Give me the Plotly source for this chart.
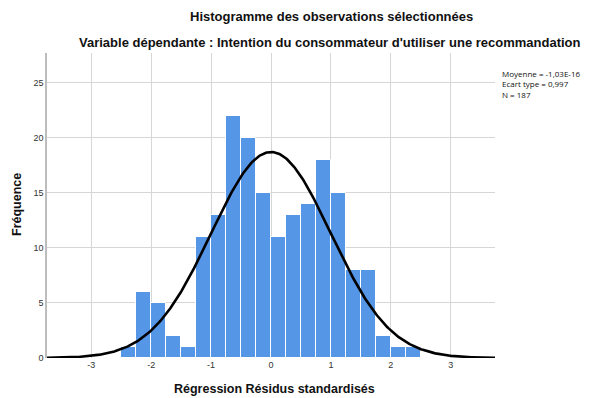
import numpy as np
import plotly.graph_objects as go

# Histogram of standardized regression residuals
bin_left = [-2.5, -2.25, -2.0, -1.75, -1.5, -1.25, -1.0, -0.75, -0.5, -0.25,
            0.0, 0.25, 0.5, 0.75, 1.0, 1.25, 1.5, 1.75, 2.0, 2.25]
counts = [1, 6, 5, 2, 1, 11, 13, 22, 20, 15,
          11, 13, 14, 18, 15, 8, 8, 2, 1, 1]
bin_width = 0.25

# Summary statistics shown beside the plot
mean = -1.03e-16
std = 0.997
n_obs = 187
stats_lines = ["Moyenne = -1,03E-16", "Ecart type = 0,997", "N = 187"]

x_ticks = [-3, -2, -1, 0, 1, 2, 3]
y_ticks = [0, 5, 10, 15, 20, 25]

x_range = [-3.74, 3.74]
y_range = [0, 27.7]

centers = [b + bin_width / 2 for b in bin_left]

# Normal curve scaled to the histogram counts
xs = np.linspace(x_range[0], x_range[1], 400)
ys = n_obs * bin_width * np.exp(-0.5 * ((xs - mean) / std) ** 2) / (std * np.sqrt(2 * np.pi))

fig = go.Figure()
fig.add_trace(go.Bar(
    x=centers, y=counts, width=bin_width,
    marker=dict(color="#5596E6", line=dict(color="white", width=1)),
    hoverinfo="x+y",
))
fig.add_trace(go.Scatter(
    x=xs, y=ys, mode="lines",
    line=dict(color="black", width=2.6),
    hoverinfo="skip",
))

font = "Liberation Sans, Arial, sans-serif"
grid = "#d6d6d6"

W, H = 596, 398
ML, MR, MT, MB = 47, 101, 53, 40

fig.update_layout(
    width=W, height=H,
    margin=dict(l=ML, r=MR, t=MT, b=MB),
    paper_bgcolor="white", plot_bgcolor="white",
    showlegend=False,
    bargap=0,
    font=dict(family=font, color="#222"),
    xaxis=dict(
        range=x_range, tickvals=x_ticks, ticktext=[str(t) for t in x_ticks],
        showgrid=True, gridcolor=grid, gridwidth=1,
        zeroline=False, showline=False, ticks="",
        tickfont=dict(size=9, color="#333"),
    ),
    yaxis=dict(
        range=y_range, tickvals=y_ticks,
        showgrid=True, gridcolor=grid, gridwidth=1,
        zeroline=False, showline=True, linecolor="#bdbdbd", linewidth=1.5,
        ticks="", tickfont=dict(size=9, color="#333"),
    ),
)


# Pixel position -> paper coordinates of the plot area
def paper_x(px):
    return (px - ML) / (W - ML - MR)


def paper_y(py):
    return (H - MB - py) / (H - MT - MB)


def add_text(text, px, py, size, angle=0, anchor="center", yanchor="middle",
             family=None, align="center"):
    f = dict(size=size, color="#111")
    if family:
        f["family"] = family
    fig.add_annotation(
        text=text, x=paper_x(px), y=paper_y(py),
        xref="paper", yref="paper", showarrow=False,
        xanchor=anchor, yanchor=yanchor, textangle=angle, align=align,
        font=f, borderpad=0,
    )


add_text("<b>Histogramme des observations sélectionnées</b>", 331, 17, 13)
add_text("<b>Variable dépendante : Intention du consommateur d'utiliser une recommandation</b>",
         330, 43, 13)
add_text("<b>Régression Résidus standardisés</b>", 274, 389, 12.5)
add_text("<b>Fréquence</b>", 17, 205, 12.5, angle=-90)

# Statistics block as one multi-line label
add_text("<br>".join(stats_lines), 501, 67.5, 8, anchor="left", yanchor="top",
         family="Open Sans", align="left")

fig.write_html("out.html")
